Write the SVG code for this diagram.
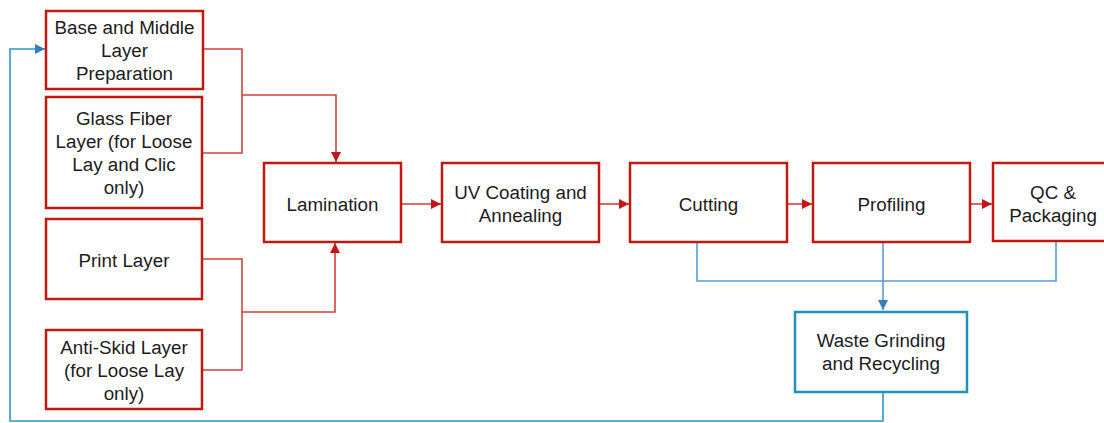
<svg xmlns="http://www.w3.org/2000/svg" width="1104" height="423" viewBox="0 0 1104 423">
<style>
.box{fill:#fff;stroke:#c0190f;stroke-width:2.5}
.wbox{fill:#fff;stroke:#1b93b9;stroke-width:2.5}
text{font-family:"Liberation Sans",Arial,sans-serif;font-size:18.8px;fill:#1c1c1c;text-anchor:middle}
.rl{fill:none;stroke:#d4413b;stroke-width:1.6}
.bl{fill:none;stroke:#5b9bd5;stroke-width:1.6}
.fb{fill:none;stroke:#2b96c4;stroke-width:1.6}
</style>
<defs>
<marker id="ar" viewBox="0 0 10 10" refX="10" refY="5" markerWidth="10" markerHeight="10" markerUnits="userSpaceOnUse" orient="auto"><path d="M0,0 L10,5 L0,10 Z" fill="#c3161b"/></marker>
<marker id="ab" viewBox="0 0 10 10" refX="10" refY="5" markerWidth="10" markerHeight="10" markerUnits="userSpaceOnUse" orient="auto"><path d="M0,0 L10,5 L0,10 Z" fill="#3a7cc4"/></marker>
</defs>
<rect width="1104" height="423" fill="#fff"/>
<g id="connectors">
<path class="rl" d="M203,49 H242 V153 H202"/>
<path class="rl" d="M242,95 H336 V162" marker-end="url(#ar)"/>
<path class="rl" d="M202,259 H242 V370 H202"/>
<path class="rl" d="M242,312 H335 V243" marker-end="url(#ar)"/>
<path class="rl" d="M401,204 H441" marker-end="url(#ar)"/>
<path class="rl" d="M599,204 H629" marker-end="url(#ar)"/>
<path class="rl" d="M787,204 H812" marker-end="url(#ar)"/>
<path class="rl" d="M970,204 H992" marker-end="url(#ar)"/>
<path class="bl" d="M697,243 V281 H1056 V242"/>
<path class="bl" d="M883,243 V310" marker-end="url(#ab)"/>
<path class="fb" d="M883,392 V421 H10 V49 H45" marker-end="url(#ab)"/>
</g>
<g id="base"><rect class="box" x="46" y="11" width="157" height="78"/><text x="124.5" y="34">Base and Middle</text><text x="124.5" y="57">Layer</text><text x="124.5" y="80">Preparation</text></g>
<g id="glass"><rect class="box" x="46" y="97" width="156" height="111"/><text x="124" y="125">Glass Fiber</text><text x="124" y="148">Layer (for Loose</text><text x="124" y="171">Lay and Clic</text><text x="124" y="194">only)</text></g>
<g id="print"><rect class="box" x="46" y="219" width="156" height="80"/><text x="124" y="267">Print Layer</text></g>
<g id="antiskid"><rect class="box" x="46" y="330" width="156" height="79"/><text x="124" y="354">Anti-Skid Layer</text><text x="124" y="377">(for Loose Lay</text><text x="124" y="400">only)</text></g>
<g id="lamination"><rect class="box" x="264" y="163" width="137" height="79"/><text x="332.5" y="211">Lamination</text></g>
<g id="uv"><rect class="box" x="442" y="163" width="157" height="79"/><text x="520.5" y="199">UV Coating and</text><text x="520.5" y="222">Annealing</text></g>
<g id="cutting"><rect class="box" x="630" y="163" width="157" height="79"/><text x="708.5" y="211">Cutting</text></g>
<g id="profiling"><rect class="box" x="813" y="163" width="157" height="79"/><text x="891.5" y="211">Profiling</text></g>
<g id="qc"><rect class="box" x="993" y="163" width="157" height="78"/><text x="1053" y="199">QC &amp;</text><text x="1053" y="222">Packaging</text></g>
<g id="waste"><rect class="wbox" x="795" y="312" width="172" height="80"/><text x="881" y="347">Waste Grinding</text><text x="881" y="370">and Recycling</text></g>
</svg>
